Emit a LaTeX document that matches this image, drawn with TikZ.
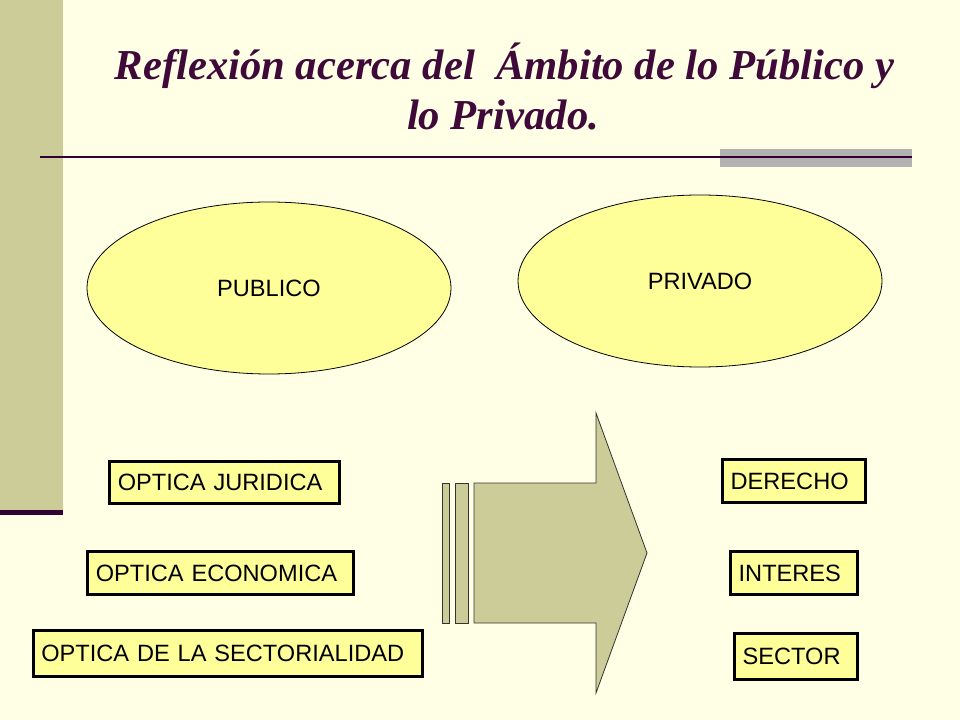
\documentclass[tikz,border=0pt]{standalone}
\usepackage{fontspec}
\setmainfont{Liberation Serif}
\setsansfont{Liberation Sans}
\usetikzlibrary{shapes.geometric}
\definecolor{fondo}{HTML}{FFFFE5}
\definecolor{oliva}{HTML}{CCCC99}
\definecolor{amarillo}{HTML}{FFFF99}
\definecolor{morado}{HTML}{330033}
\definecolor{titulo}{HTML}{3F0A3A}
\definecolor{gris}{HTML}{B2B2B2}
\begin{document}
\begin{tikzpicture}[x=0.75pt,y=-0.75pt,
    encabezado/.style={text=titulo,anchor=base,inner sep=0pt,
        font=\fontsize{32}{38}\selectfont\bfseries\itshape},
    ambito/.style={ellipse,draw,fill=amarillo,line width=0.6pt,
        minimum width=273pt,minimum height=129pt,
        font=\sffamily\fontsize{17.7}{20}\selectfont},
    caja/.style={draw,fill=amarillo,line width=2.25pt,inner xsep=6pt,
        minimum height=32pt,align=left,
        font=\sffamily\fontsize{17.7}{20}\selectfont},
    franja/.style={fill=oliva,draw=black!80,line width=0.6pt}]
    % fondo y marco de la diapositiva
    \useasboundingbox[fill=fondo] (0,0) rectangle (960,720);
    \fill[oliva] (0,0) rectangle (63,510);
    \fill[morado] (0,510) rectangle (63,515);
    \fill[gris] (720,149) rectangle (912,167);
    \draw[morado,line width=1.5pt] (40,157) -- (912,157);
    \node[encabezado] (titulo1) at (504.5,80)
        {Reflexión acerca del\ \ Ámbito de lo Público y};
    \node[encabezado] (titulo2) at (503,130) {lo Privado.};
    % los dos ambitos
    \node[ambito] (publico) at (269,288) {PUBLICO};
    \node[ambito] (privado) at (700,281) {PRIVADO};
    % flecha
    \foreach \a/\b in {442/449,455/468}
        \draw[franja] (\a,483) rectangle (\b,623);
    \draw[franja] (474,483) -- (596,483) -- (596,413) -- (647,553)
        -- (596,693) -- (596,623) -- (474,623) -- cycle;
    % opticas
    \node[caja,text width=160pt] (juridica) at (224.5,482.5) {OPTICA JURIDICA};
    \node[caja,text width=187pt] (economica) at (220.5,573) {OPTICA ECONOMICA};
    \node[caja,text width=280pt,minimum height=34pt] (sectorialidad) at (228,653.5)
        {OPTICA DE LA SECTORIALIDAD};
    \node[caja,text width=95pt] (derecho) at (794,481) {DERECHO};
    \node[caja,text width=83pt] (interes) at (794,573) {INTERES};
    \node[caja,text width=80pt,minimum height=35pt] (sector) at (796,656.5) {SECTOR};
\end{tikzpicture}
\end{document}
